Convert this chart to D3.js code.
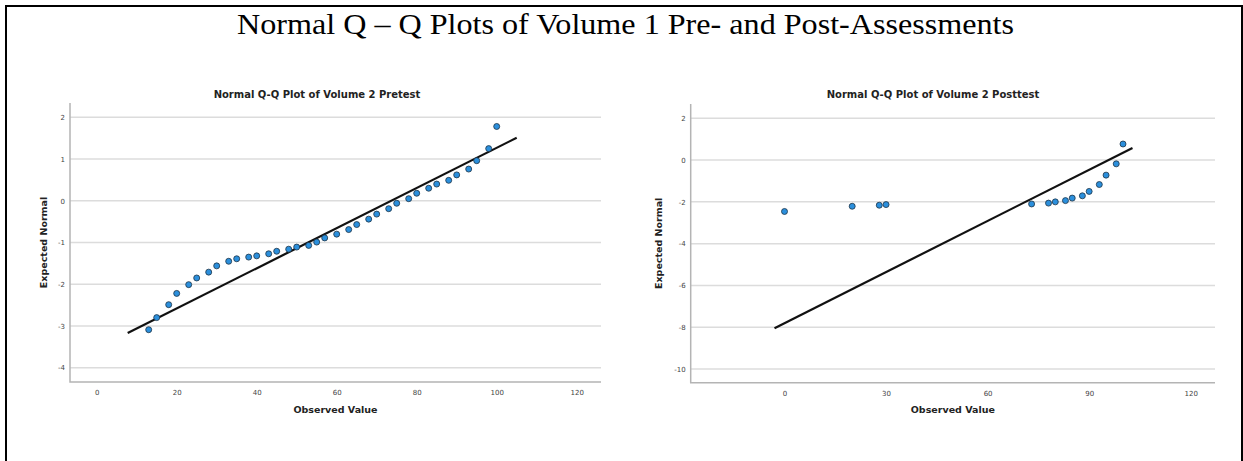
<!DOCTYPE html>
<html>
<head>
<meta charset="utf-8">
<script src="https://cdn.jsdelivr.net/npm/d3@7"></script>
<style>
  body { margin: 0; background: #fff; }
  .tick text { fill: #444; }
</style>
</head>
<body>
<div id="chart"></div>
<script>
// size of the whole picture
var w = 1243;
var h = 461;

// pretest data (observed value, expected normal)
var preObserved = [13, 15, 18, 20, 23, 25, 28, 30, 33, 35, 38, 40, 43, 45, 48, 50, 53, 55, 57,
  60, 63, 65, 68, 70, 73, 75, 78, 80, 83, 85, 88, 90, 93, 95, 98, 100];
var preExpected = [-3.09, -2.80, -2.49, -2.22, -2.01, -1.85, -1.71, -1.56, -1.45, -1.39, -1.35, -1.32,
  -1.27, -1.21, -1.16, -1.11, -1.07, -0.99, -0.89, -0.80, -0.69, -0.57, -0.44, -0.32, -0.19, -0.06,
  0.05, 0.18, 0.30, 0.40, 0.49, 0.62, 0.76, 0.96, 1.25, 1.78];
var preLineX = [7.75, 105];
var preLineY = [-3.17, 1.51];

// posttest data
var postObserved = [0, 20, 28, 30, 73, 78, 80, 83, 85, 88, 90, 93, 95, 98, 100];
var postExpected = [-2.46, -2.21, -2.16, -2.13, -2.10, -2.06, -2.00, -1.94, -1.82, -1.71, -1.50,
  -1.17, -0.72, -0.18, 0.77];
var postLineX = [-2.95, 102.8];
var postLineY = [-8.05, 0.58];

// tick labels
var preXTicks = [0, 20, 40, 60, 80, 100, 120];
var preYTicks = [-4, -3, -2, -1, 0, 1, 2];
var postXTicks = [0, 30, 60, 90, 120];
var postYTicks = [-10, -8, -6, -4, -2, 0, 2];

var svg = d3.select("#chart").append("svg")
  .attr("width", w)
  .attr("height", h);

// frame around the figure (open at the bottom)
svg.append("path")
  .attr("d", "M6,461 V6 H1242 V461")
  .attr("fill", "none")
  .attr("stroke", "#000")
  .attr("stroke-width", 2);

// main title
svg.append("text")
  .attr("x", 625.5)
  .attr("y", 34)
  .attr("text-anchor", "middle")
  .attr("font-family", "Liberation Serif, Times New Roman, serif")
  .attr("font-size", "30px")
  .attr("textLength", 777)
  .attr("lengthAdjust", "spacingAndGlyphs")
  .attr("fill", "#000")
  .text("Normal Q \u2013 Q Plots of Volume 1 Pre- and Post-Assessments");

// plain hyphen for negative numbers, like the original
var fmt = function(d) { return String(d); };

function drawPlot(opt) {
  var g = svg.append("g");

  var x = d3.scaleLinear().domain([0, 120]).range(opt.xRange);
  var y = d3.scaleLinear().domain(opt.yDomain).range(opt.yRange);

  // gridlines
  g.selectAll(".grid")
    .data(opt.yTicks)
    .enter()
    .append("line")
    .attr("x1", opt.left)
    .attr("x2", opt.right)
    .attr("y1", function(d) { return y(d); })
    .attr("y2", function(d) { return y(d); })
    .attr("stroke", "#dcdcdc")
    .attr("stroke-width", 1.5);

  // x axis
  var xAxis = d3.axisBottom(x).tickValues(opt.xTicks).tickFormat(fmt).tickSize(0).tickPadding(8);
  var gx = g.append("g")
    .attr("transform", "translate(0," + opt.bottom + ")")
    .call(xAxis);
  gx.select(".domain").remove();
  gx.selectAll("text").attr("font-family", "DejaVu Sans, sans-serif").attr("font-size", "7px");

  // y axis
  var yAxis = d3.axisLeft(y).tickValues(opt.yTicks).tickFormat(fmt).tickSize(0).tickPadding(5);
  var gy = g.append("g")
    .attr("transform", "translate(" + opt.left + ",0)")
    .call(yAxis);
  gy.select(".domain").remove();
  gy.selectAll("text").attr("font-family", "DejaVu Sans, sans-serif").attr("font-size", "7px");

  // axis lines
  g.append("path")
    .attr("d", "M" + opt.left + "," + opt.top + " V" + opt.bottom + " H" + opt.right)
    .attr("fill", "none")
    .attr("stroke", "#b4b4b4")
    .attr("stroke-width", 1.5);

  // reference line
  var pts = opt.lineX.map(function(d, i) { return [d, opt.lineY[i]]; });
  var line = d3.line()
    .x(function(d) { return x(d[0]); })
    .y(function(d) { return y(d[1]); });
  g.append("path")
    .datum(pts)
    .attr("fill", "none")
    .attr("stroke", "#111")
    .attr("stroke-width", 2.2)
    .attr("d", line);

  // dots
  var data = opt.xs.map(function(d, i) { return { obs: d, exp: opt.ys[i] }; });
  g.selectAll(".dot")
    .data(data)
    .enter()
    .append("circle")
    .attr("class", "dot")
    .attr("cx", function(d) { return x(d.obs); })
    .attr("cy", function(d) { return y(d.exp); })
    .attr("r", 3)
    .attr("fill", "#2b8fdc")
    .attr("stroke", "#1d3446")
    .attr("stroke-width", 0.8);

  // titles
  g.append("text")
    .attr("x", opt.titleX)
    .attr("y", 98)
    .attr("text-anchor", "middle")
    .attr("font-family", "DejaVu Sans, sans-serif")
    .attr("font-weight", "bold")
    .attr("font-size", "10px")
    .attr("fill", "#222")
    .text(opt.title);

  g.append("text")
    .attr("x", (opt.left + opt.right) / 2)
    .attr("y", 413)
    .attr("text-anchor", "middle")
    .attr("font-family", "DejaVu Sans, sans-serif")
    .attr("font-weight", "bold")
    .attr("font-size", "9.5px")
    .attr("fill", "#222")
    .text("Observed Value");

  g.append("text")
    .attr("transform", "translate(" + opt.yLabelX + "," + ((opt.top + opt.bottom) / 2) + ") rotate(-90)")
    .attr("text-anchor", "middle")
    .attr("font-family", "DejaVu Sans, sans-serif")
    .attr("font-weight", "bold")
    .attr("font-size", "9.5px")
    .attr("fill", "#222")
    .text("Expected Normal");
}

drawPlot({
  xs: preObserved, ys: preExpected, lineX: preLineX, lineY: preLineY,
  xTicks: preXTicks, yTicks: preYTicks,
  xRange: [96.7, 576.7], yDomain: [-4, 2], yRange: [367.7, 117.3],
  left: 70, right: 601, top: 103, bottom: 382,
  titleX: 317, yLabelX: 47,
  title: "Normal Q-Q Plot of Volume 2 Pretest"
});

drawPlot({
  xs: postObserved, ys: postExpected, lineX: postLineX, lineY: postLineY,
  xTicks: postXTicks, yTicks: postYTicks,
  xRange: [784.5, 1190.7], yDomain: [-10, 2], yRange: [369, 118.3],
  left: 690.7, right: 1215, top: 104, bottom: 382.7,
  titleX: 933, yLabelX: 662,
  title: "Normal Q-Q Plot of Volume 2 Posttest"
});
</script>
</body>
</html>
